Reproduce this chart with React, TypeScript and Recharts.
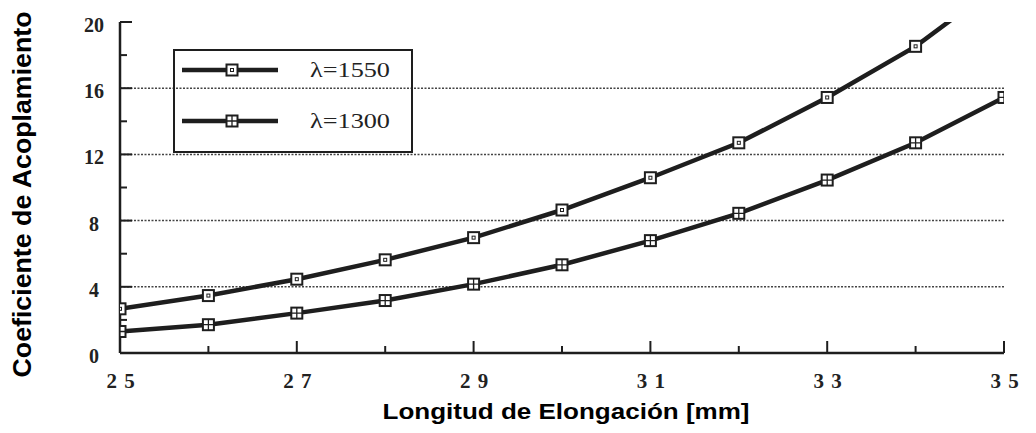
import React from "react";
import { LineChart, Line, XAxis, YAxis, ReferenceLine, Legend, Label } from "recharts";

// valores
const elongation = [25, 26, 27, 28, 29, 30, 31, 32, 33, 34, 35];
const coupling1550 = [2.67, 3.47, 4.46, 5.63, 6.97, 8.64, 10.59, 12.7, 15.44, 18.53, 22.5];
const coupling1300 = [1.3, 1.71, 2.41, 3.17, 4.16, 5.33, 6.79, 8.44, 10.45, 12.7, 15.44];

const xTicks = [25, 26, 27, 28, 29, 30, 31, 32, 33, 34, 35];
const yTicks = [0, 2, 4, 6, 8, 10, 12, 14, 16, 18, 20];
const gridValues = [4, 8, 12, 16];
const seriesNames = ["λ=1550", "λ=1300"];

const data = elongation.map((x, i) => ({ x, l1550: coupling1550[i], l1300: coupling1300[i] }));

const INK = "#1e1e1e";
const serif = { fontFamily: '"Liberation Serif", "Times New Roman", Times, serif' };
const sans = { fontFamily: '"Liberation Sans", Arial, Helvetica, sans-serif' };

function SquareMark({ cx, cy, kind }: { cx: number; cy: number; kind: string }) {
  const s = 11;
  return (
    <g>
      <rect x={cx - s / 2} y={cy - s / 2} width={s} height={s} fill="#fff" stroke={INK} strokeWidth={2} />
      {kind === "dot" ? (
        <rect x={cx - 1.5} y={cy - 1.5} width={3} height={3} fill="none" stroke={INK} strokeWidth={1} />
      ) : (
        <path d={`M${cx - s / 2} ${cy}H${cx + s / 2}M${cx} ${cy - s / 2}V${cy + s / 2}`} stroke={INK} strokeWidth={1.3} />
      )}
    </g>
  );
}

const isMajorX = (v: number) => v % 2 === 1;
const isMajorY = (v: number) => v % 4 === 0;

const BottomTick = (p: any) => {
  const v = p.payload.value;
  const len = isMajorX(v) ? 12 : 7;
  return (
    <g>
      <line x1={p.x} x2={p.x} y1={p.y} y2={p.y - len} stroke={INK} strokeWidth={2} />
      {isMajorX(v) && (
        <text x={p.x + 1} y={p.y + 35} textAnchor="middle" style={serif} fontWeight="bold" fontSize={21}
          fill="#222" letterSpacing={1}>
          {String(v).split("").join(" ")}
        </text>
      )}
    </g>
  );
};

const TopTick = (p: any) => {
  const len = isMajorX(p.payload.value) ? 12 : 7;
  return <line x1={p.x} x2={p.x} y1={p.y} y2={p.y + len} stroke={INK} strokeWidth={2} />;
};

const LeftTick = (p: any) => {
  const v = p.payload.value;
  const len = isMajorY(v) ? 12 : 7;
  return (
    <g>
      <line x1={p.x} x2={p.x + len} y1={p.y} y2={p.y} stroke={INK} strokeWidth={2} />
      {isMajorY(v) && (
        <text x={p.x - 26} y={p.y + 10} textAnchor="middle" style={serif} fontWeight="bold" fontSize={20} fill="#222">
          {v}
        </text>
      )}
    </g>
  );
};

const RightTick = (p: any) => {
  const len = isMajorY(p.payload.value) ? 12 : 7;
  return <line x1={p.x} x2={p.x - len} y1={p.y} y2={p.y} stroke={INK} strokeWidth={2} />;
};

const XTitle = (props: any) => {
  const vb = props.viewBox;
  return (
    <text x={vb.x + vb.width / 2 + 4} y={vb.y + 66} textAnchor="middle" style={sans} fontWeight="bold"
      fontSize={22} fill="#000" textLength={367} lengthAdjust="spacingAndGlyphs">
      Longitud de Elongación [mm]
    </text>
  );
};

const YTitle = (props: any) => {
  const vb = props.viewBox;
  const x = vb.x - 19;
  const y = vb.y + vb.height / 2 + 7;
  return (
    <text x={x} y={y} transform={`rotate(-90 ${x} ${y})`} textAnchor="middle" style={sans} fontWeight="bold"
      fontSize={25} fill="#000" textLength={366} lengthAdjust="spacingAndGlyphs">
      Coeficiente de Acoplamiento
    </text>
  );
};

const LegendBox = () => (
  <div style={{ width: 240, height: 104, border: `2px solid ${INK}`, boxSizing: "border-box" }}>
    <svg width={236} height={100} style={{ display: "block" }}>
      {seriesNames.map((name, i) => {
        const cy = 19 + i * 51;
        return (
          <g key={name}>
            <line x1={7} x2={103} y1={cy} y2={cy} stroke={INK} strokeWidth={4.5} />
            <SquareMark cx={57} cy={cy} kind={i === 0 ? "dot" : "cross"} />
            <text x={135} y={cy + 7} style={serif} fontSize={21} fill="#222" textLength={80}
              lengthAdjust="spacingAndGlyphs">
              {name}
            </text>
          </g>
        );
      })}
    </svg>
  </div>
);

export default function App() {
  return (
    <div style={{ position: "absolute", left: 0, top: 0, width: 1036, height: 433, background: "#fff" }}>
      <LineChart width={1036} height={433} data={data} margin={{ top: 22, right: 32, bottom: 30, left: 50 }}>
        <XAxis dataKey="x" type="number" domain={[25, 35]} ticks={xTicks} interval={0} allowDataOverflow
          height={50} tickSize={0} tickMargin={0} tickLine={false} tick={BottomTick}
          axisLine={{ stroke: INK, strokeWidth: 2.5 }}>
          <Label content={XTitle} />
        </XAxis>
        <XAxis xAxisId="top" orientation="top" dataKey="x" type="number" domain={[25, 35]} ticks={xTicks}
          interval={0} allowDataOverflow height={0} tickSize={0} tickMargin={0} tickLine={false} tick={TopTick}
          axisLine={{ stroke: INK, strokeWidth: 2.5 }} />
        <YAxis type="number" domain={[0, 20]} ticks={yTicks} interval={0} allowDataOverflow width={70}
          tickSize={0} tickMargin={0} tickLine={false} tick={LeftTick} axisLine={{ stroke: INK, strokeWidth: 2.5 }}>
          <Label content={YTitle} />
        </YAxis>
        <YAxis yAxisId="right" orientation="right" type="number" domain={[0, 20]} ticks={yTicks} interval={0}
          allowDataOverflow width={0} tickSize={0} tickMargin={0} tickLine={false} tick={RightTick}
          axisLine={{ stroke: INK, strokeWidth: 2.5 }} />
        {gridValues.map((v) => (
          <ReferenceLine key={v} y={v} stroke="#444" strokeWidth={1.5} strokeDasharray="2 1.5" />
        ))}
        <Legend layout="vertical" align="center" verticalAlign="middle" content={LegendBox}
          wrapperStyle={{ left: 173, top: 49, width: 240, height: 104 }} />
        <Line type="linear" dataKey="l1550" name={seriesNames[0]} stroke={INK} strokeWidth={4.5}
          isAnimationActive={false}
          dot={(p: any) => <SquareMark key={`a${p.index}`} cx={p.cx} cy={p.cy} kind="dot" />} />
        <Line type="linear" dataKey="l1300" name={seriesNames[1]} stroke={INK} strokeWidth={4.5}
          isAnimationActive={false}
          dot={(p: any) => <SquareMark key={`b${p.index}`} cx={p.cx} cy={p.cy} kind="cross" />} />
      </LineChart>
    </div>
  );
}
